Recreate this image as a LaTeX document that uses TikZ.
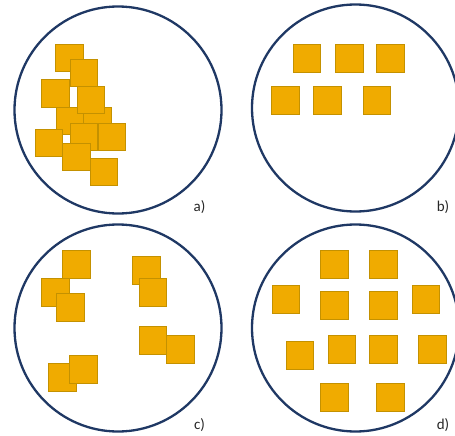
\documentclass[tikz,border=0pt]{standalone}
\usepackage{fontspec}
\setmainfont{Carlito}
\usetikzlibrary{positioning}

\definecolor{ringblue}{RGB}{31,56,100}
\definecolor{tilefill}{RGB}{240,171,0}
\definecolor{tileedge}{RGB}{196,145,0}

\begin{document}
\begin{tikzpicture}[x=1pt, y=-1pt,
  ring/.style={draw=ringblue, line width=2.3pt},
  tile/.style={draw=tileedge, fill=tilefill, line width=1.1pt,
    minimum size=27.5pt, inner sep=0pt},
  tag/.style={font=\fontsize{15}{17}\selectfont, text=black!85}]
  \useasboundingbox (0,0) rectangle (455,436);
  % four dishes
  \draw[ring] (118,110) circle (103.5);
  \draw[ring] (355.5,108) circle (103.5);
  \draw[ring] (118,328) circle (103.5);
  \draw[ring] (355.5,328) circle (103.5);
  % a) one heap
  \foreach \p [count=\i] in {(69.5,58),(84,73),(55.5,93.5),(70,121),(97.5,121),(91,100),
      (49,143),(84,137),(112,137),(76.5,157),(104,172)}
    \node[tile] (a\i) at \p {};
  % b) two rows near the top
  \foreach \p [count=\i] in {(307,58.5),(349.5,58.5),(390.5,58.5),
      (285.5,100.5),(327.5,100.5),(377,100.5)}
    \node[tile] (b\i) at \p {};
  % c) small clusters
  \foreach \p [count=\i] in {(76.5,264.5),(55.5,292.5),(70.5,307.5),(146.5,270.5),(153,292.5),
      (153,340.5),(180.5,349.5),(62.5,377.5),(83.5,369.5)}
    \node[tile] (c\i) at \p {};
  % d) spread out
  \foreach \p [count=\i] in {(334.5,264.5),(383.5,264.5),(286,299.5),(334.5,305.5),
      (383.5,305.5),(426,299.5),(300,355.5),(342,349.5),(383.5,349.5),(432.5,349.5),
      (334.5,397.5),(390.5,397.5)}
    \node[tile] (d\i) at \p {};
  \node[tag] (la) at (199.5,207) {a)};
  \node[tag] (lb) at (443,207) {b)};
  \node[tag] (lc) at (199.5,425) {c)};
  \node[tag] (ld) at (443,425) {d)};
\end{tikzpicture}
\end{document}
